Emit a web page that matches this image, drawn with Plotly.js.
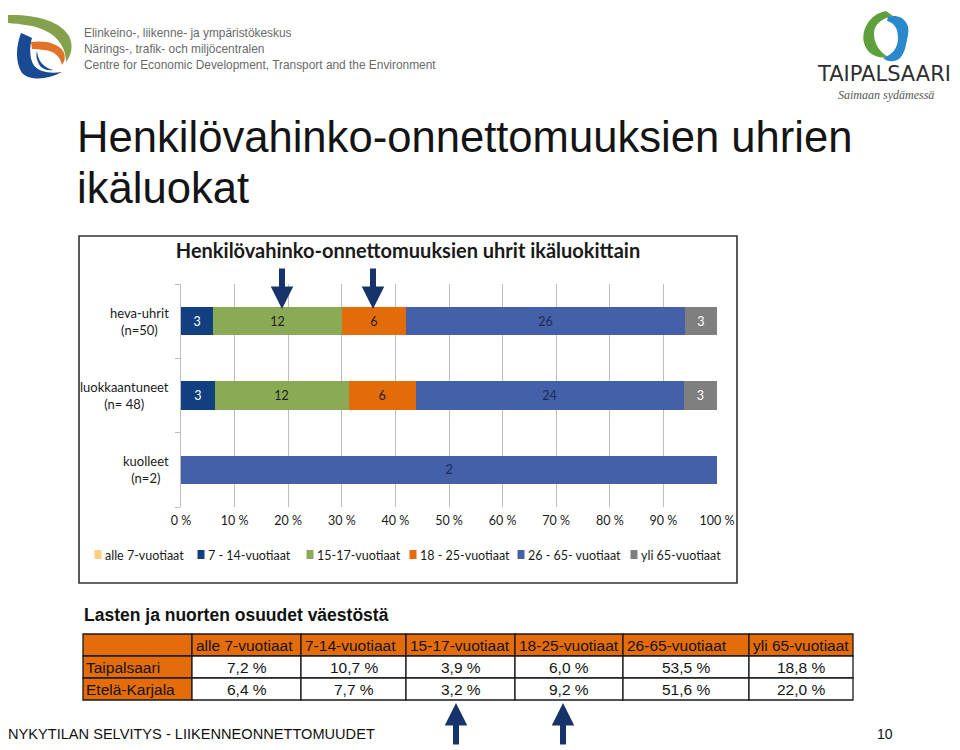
<!DOCTYPE html>
<html>
<head>
<meta charset="utf-8">
<script src="https://cdn.plot.ly/plotly-3.0.1.min.js"></script>
<style>html,body{margin:0;padding:0;background:#fff;}#chart{width:960px;height:750px;}</style>
</head>
<body>
<div id="chart"></div>
<script>
// ---- Chart data ----
const groups = ['heva-uhrit', 'luokkaantuneet', 'kuolleet'];
const groupN = ['(n=50)', '(n= 48)', '(n=2)'];
const seriesNames = ['alle 7-vuotiaat', '7 - 14-vuotiaat', '15-17-vuotiaat', '18 - 25-vuotiaat', '26 - 65- vuotiaat', 'yli 65-vuotiaat'];
const alle7 = [0, 0, 0];
const v7_14 = [3, 3, 0];
const v15_17 = [12, 12, 0];
const v18_25 = [6, 6, 0];
const v26_65 = [26, 24, 2];
const yli65 = [3, 3, 0];
const xTicks = [0, 10, 20, 30, 40, 50, 60, 70, 80, 90, 100];

// ---- Table data ----
const tableHeader = ['alle 7-vuotiaat', '7-14-vuotiaat', '15-17-vuotiaat', '18-25-vuotiaat', '26-65-vuotiaat', 'yli 65-vuotiaat'];
const tableRows = ['Taipalsaari', 'Etelä-Karjala'];
const taipalsaari = [7.2, 10.7, 3.9, 6.0, 53.5, 18.8];
const etelaKarjala = [6.4, 7.7, 3.2, 9.2, 51.6, 22.0];

// ---- styles ----
const colors = ['#F8CF7F', '#123F7F', '#8BAA55', '#E36C0A', '#4360A8', '#7F7F7F'];
const txtColors = ['#222', '#ffffff', '#1f1f1f', '#1f1f1f', '#1c2b55', '#ffffff'];
const W = 960, H = 750;
const px = x => x / W, py = y => 1 - y / H;

const seriesVals = [alle7, v7_14, v15_17, v18_25, v26_65, yli65];
const traces = seriesVals.map((vals, i) => ({
  type: 'bar', orientation: 'h',
  name: seriesNames[i],
  y: groups, x: vals,
  text: vals.map(v => v ? String(v) : ''),
  textposition: 'inside', insidetextanchor: 'middle', textangle: 0,
  texttemplate: '%{text}',
  insidetextfont: {family: 'Lato', size: 12.5, color: txtColors[i]},
  marker: {color: colors[i], line: {width: 0}},
  hoverinfo: 'skip', showlegend: false, cliponaxis: false
}));

const overlay = {type: 'scatter', x: [], y: [], xaxis: 'x2', yaxis: 'y2', showlegend: false, hoverinfo: 'skip'};

const annotations = [];
const shapes = [];

// ---- table (built from the table arrays, drawn on the pixel overlay axes) ----
const fmt = v => v.toFixed(1).replace('.', ',') + ' %';
const orange = '#E46C0A';
const tableFont = {family: 'Liberation Sans, Arial', size: 15.5, color: '#141414'};
const colW = [109, 109, 105, 109, 108, 126, 104];
const tblX0 = 83, tblY0 = 634, rowH = 22;
const colX = [tblX0];
colW.forEach(w => colX.push(colX[colX.length - 1] + w));
const nRows = 1 + tableRows.length;
// fills
for (let r = 0; r < nRows; r++) {
  for (let c = 0; c < colW.length; c++) {
    const isOrange = r === 0 || c === 0;
    shapes.push({type: 'rect', xref: 'x2', yref: 'y2', x0: colX[c], x1: colX[c + 1], y0: tblY0 + r * rowH, y1: tblY0 + (r + 1) * rowH,
      fillcolor: isOrange ? orange : '#ffffff', line: {color: '#1a1a1a', width: 1.3}, layer: 'below'});
  }
}
// header text
tableHeader.forEach((h, i) => annotations.push({xref: 'x2', yref: 'y2', x: colX[i + 1] + 2, y: tblY0 + rowH / 2 + 0.5,
  xanchor: 'left', yanchor: 'middle', showarrow: false, text: h, font: tableFont}));
// body
tableRows.forEach((name, r) => {
  const yc = tblY0 + (r + 1.5) * rowH + 0.5;
  annotations.push({xref: 'x2', yref: 'y2', x: colX[0] + 1, y: yc, xanchor: 'left', yanchor: 'middle', showarrow: false, text: name, font: tableFont});
  const vals = r === 0 ? taipalsaari : etelaKarjala;
  vals.forEach((v, c) => annotations.push({xref: 'x2', yref: 'y2', x: (colX[c + 1] + colX[c + 2]) / 2, y: yc,
    xanchor: 'center', yanchor: 'middle', showarrow: false, text: fmt(v), font: tableFont}));
});

// slide title
annotations.push({xref: 'paper', yref: 'paper', x: px(75), y: py(137), xanchor: 'left', yanchor: 'middle', showarrow: false,
  text: 'Henkilövahinko-onnettomuuksien uhrien', font: {family: 'Liberation Sans, Arial', size: 43.6, color: '#141414'}});
annotations.push({xref: 'paper', yref: 'paper', x: px(75), y: py(188), xanchor: 'left', yanchor: 'middle', showarrow: false,
  text: 'ikäluokat', font: {family: 'Liberation Sans, Arial', size: 43.6, color: '#141414'}});
// header logo text
['Elinkeino-, liikenne- ja ympäristökeskus', 'Närings-, trafik- och miljöcentralen', 'Centre for Economic Development, Transport and the Environment']
  .forEach((t, i) => annotations.push({xref: 'paper', yref: 'paper', x: px(82), y: py(33 + i * 16), xanchor: 'left', yanchor: 'middle',
    showarrow: false, text: t, font: {family: 'Liberation Sans, Arial', size: 11.9, color: '#6a6a6a'}}));
annotations.push({xref: 'paper', yref: 'paper', x: px(884), y: py(74), xanchor: 'center', yanchor: 'middle', showarrow: false,
  text: 'TAIPALSAARI', font: {family: 'DejaVu Sans', size: 21, color: '#2f2f2f'}});
annotations.push({xref: 'paper', yref: 'paper', x: px(886), y: py(95), xanchor: 'center', yanchor: 'middle', showarrow: false,
  text: '<i>Saimaan sydämessä</i>', font: {family: 'Liberation Serif', size: 12, color: '#555'}});
// category labels
groups.forEach((g, i) => annotations.push({xref: 'paper', yref: 'y', x: px(171), y: g, xanchor: 'right', yanchor: 'middle',
  align: 'center', showarrow: false, text: g + '<br>' + groupN[i], font: {family: 'Lato', size: 13, color: '#1a1a1a'}}));
// custom legend
const legX = [98, 201, 310, 413, 521, 634];
seriesNames.forEach((n, i) => {
  shapes.push({type: 'rect', xref: 'x2', yref: 'y2', x0: legX[i] - 3.5, x1: legX[i] + 3.5, y0: 550, y1: 559,
    fillcolor: colors[i], line: {width: 0}});
  annotations.push({xref: 'x2', yref: 'y2', x: legX[i] + 5, y: 555, xanchor: 'left', yanchor: 'middle', showarrow: false,
    text: n, font: {family: 'Lato', size: 12.5, color: '#1a1a1a'}});
});
// table heading and footer
annotations.push({xref: 'paper', yref: 'paper', x: px(82), y: py(615), xanchor: 'left', yanchor: 'middle', showarrow: false,
  text: '<b>Lasten ja nuorten osuudet väestöstä</b>', font: {family: 'Liberation Sans, Arial', size: 17.5, color: '#111'}});
annotations.push({xref: 'paper', yref: 'paper', x: px(6), y: py(734), xanchor: 'left', yanchor: 'middle', showarrow: false,
  text: 'NYKYTILAN SELVITYS - LIIKENNEONNETTOMUUDET', font: {family: 'Liberation Sans, Arial', size: 14.6, color: '#111'}});
annotations.push({xref: 'paper', yref: 'paper', x: px(885), y: py(734), xanchor: 'center', yanchor: 'middle', showarrow: false,
  text: '10', font: {family: 'Liberation Sans, Arial', size: 14, color: '#111'}});
// arrows
const arrowColor = '#16346B';
[[282, 309, 267], [373, 309, 267], [456, 703, 746], [563, 703, 746]].forEach(a => annotations.push({
  xref: 'x2', yref: 'y2', axref: 'x2', ayref: 'y2', x: a[0], y: a[1], ax: a[0], ay: a[2], text: '',
  showarrow: true, arrowhead: 2, arrowsize: 0.75, arrowwidth: 6, arrowcolor: arrowColor}));

// chart frame
shapes.push({type: 'rect', xref: 'x2', yref: 'y2', x0: 79, x1: 737, y0: 236, y1: 583, line: {color: '#333', width: 1.6}, fillcolor: 'rgba(0,0,0,0)', layer: 'below'});
// left logo
shapes.push({type: 'path', xref: 'x2', yref: 'y2', fillcolor: '#84A24C', line: {width: 0},
  path: 'M8,15 C32,14 60,20 69,36 C74,46 71,56 66,62 C66,50 60,38 46,31 C34,25 20,24 8,23 Z'});
shapes.push({type: 'path', xref: 'x2', yref: 'y2', fillcolor: '#1A4A93', line: {width: 0},
  path: 'M21,33 C16,46 15,62 22,73 C30,81 48,80 62,72 C50,74 38,72 33,64 C29,56 30,44 32,38 C28,36 24,34 21,33 Z'});
shapes.push({type: 'path', xref: 'x2', yref: 'y2', fillcolor: '#E07328', line: {width: 0},
  path: 'M31,42 C44,40 58,43 63,51 C66,56 65,61 62,65 C60,56 54,51 44,50 C38,49 34,49 32,49 Z'});
shapes.push({type: 'path', xref: 'x2', yref: 'y2', fillcolor: '#1A4A93', line: {width: 0},
  path: 'M37,51 C38,60 42,67 53,70 C46,71 40,68 38,62 C36,58 36,54 37,51 Z'});
// right logo
shapes.push({type: 'path', xref: 'x2', yref: 'y2', fillcolor: '#5FA03C', line: {width: 0},
  path: 'M886,11 C870,14 861,29 864,43 C867,54 877,59 888,57 C880,52 874,44 874,34 C874,25 880,19 893,16 Z'});
shapes.push({type: 'path', xref: 'x2', yref: 'y2', fillcolor: '#2A88CC', line: {width: 0},
  path: 'M888,17 C901,13 911,23 908,35 C906,45 905,52 901,57 C896,63 887,62 883,58 C892,55 898,48 898,38 C898,29 895,23 887,21 Z'});

const layout = {
  width: W, height: H,
  margin: {l: 0, r: 0, t: 0, b: 0},
  paper_bgcolor: '#ffffff', plot_bgcolor: 'rgba(0,0,0,0)',
  barmode: 'stack', barnorm: 'percent', bargap: 0.62,
  showlegend: false,
  title: {text: '<b>Henkilövahinko-onnettomuuksien uhrit ikäluokittain</b>', x: px(408), y: py(251), xanchor: 'center', yanchor: 'middle',
    font: {family: 'Lato', size: 20, color: '#1a1a1a'}},
  xaxis: {domain: [px(181), px(717)], range: [0, 100], tickmode: 'array', tickvals: xTicks, ticktext: xTicks.map(v => v + ' %'),
    showgrid: true, gridcolor: '#BDBDBD', gridwidth: 1, ticklabelstandoff: 4,
    zeroline: false, showline: false, ticks: '', tickfont: {family: 'Lato', size: 12.5, color: '#1a1a1a'}, fixedrange: true, anchor: 'y'},
  yaxis: {domain: [py(507), py(284)], categoryorder: 'array', categoryarray: groups.slice().reverse(), showticklabels: false,
    showline: true, linecolor: '#BDBDBD', ticks: 'outside', tickson: 'boundaries', ticklen: 5, tickcolor: '#BDBDBD',
    showgrid: false, zeroline: false, fixedrange: true, anchor: 'x'},
  xaxis2: {domain: [0, 1], range: [0, W], visible: false, fixedrange: true, anchor: 'y2'},
  yaxis2: {domain: [0, 1], range: [H, 0], visible: false, fixedrange: true, anchor: 'x2'},
  annotations: annotations,
  shapes: shapes
};

Plotly.newPlot('chart', traces.concat([overlay]), layout, {displayModeBar: false, staticPlot: true});
</script>
</body>
</html>
